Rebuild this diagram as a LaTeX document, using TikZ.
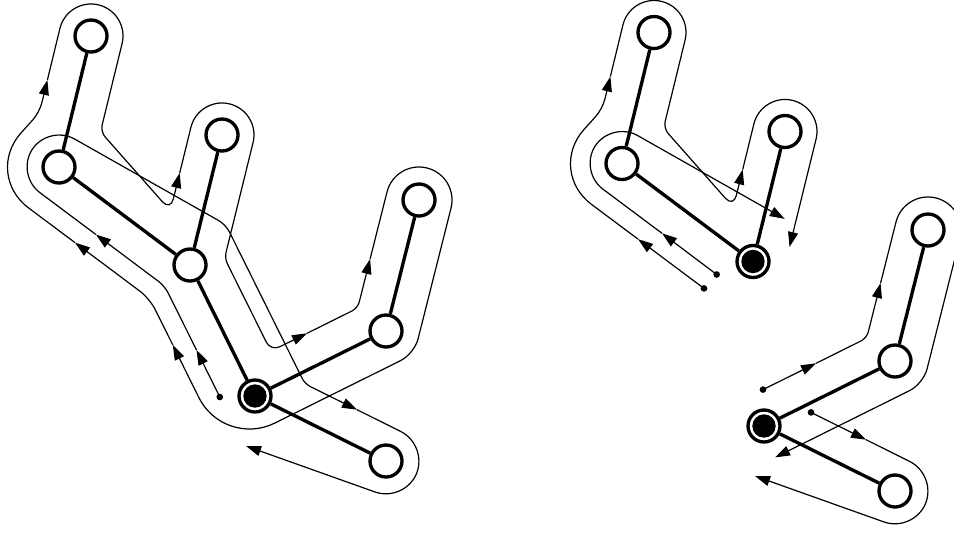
\documentclass[tikz,border=0pt]{standalone}
\usepackage{tikz}
\usetikzlibrary{arrows.meta}
\tikzset{
  vtx/.style      = {circle, draw=black, line width=1mm, fill=white,
                     minimum size=9.6mm, inner sep=0pt},
  rootvtx/.style  = {vtx, path picture={\fill[black]
                     (path picture bounding box.center) circle (3.5mm);}},
  treelink/.style = {line width=1mm},
  tour/.style     = {line width=0.36mm},
  arr/.style      = {tour, -{Triangle[length=4.5mm, width=3mm]}},
  startdot/.style = {circle, fill=black, inner sep=0pt, minimum size=2mm},
}

\begin{document}
\begin{tikzpicture}[x=0.3mm, y=-0.3mm]
\useasboundingbox (0,0) rectangle (954,532);

%% Whole tree
\node[vtx] (a) at (91,36) {};
\node[vtx] (b) at (59,167) {};
\node[vtx] (c) at (190,265) {};
\node[vtx] (d) at (222,135) {};
\node[rootvtx] (r) at (255,396) {};
\node[vtx] (e) at (419,200) {};
\node[vtx] (f) at (386,331) {};
\node[vtx] (g) at (386,461) {};
\node[startdot] (s0) at (219.8,397) {};

\draw[treelink] (a) -- (b);
\draw[treelink] (b) -- (c);
\draw[treelink] (c) -- (d);
\draw[treelink] (c) -- (r);
\draw[treelink] (r) -- (f);
\draw[treelink] (f) -- (e);
\draw[treelink] (r) -- (g);

%% Tour round the whole tree
\draw[arr] (47.4,80) [rounded corners=9.6mm] -- (67.5,-2.7) -- (129.7,12.5)
  [rounded corners=2.1mm] -- (100.5,131.7) [rounded corners=3.6mm]
  -- (170.4,210.8) -- (179.7,173);
\draw[arr] (179.7,173) [rounded corners=9.6mm] -- (198.5,96.3) -- (260.7,111.5)
  [rounded corners=1.8mm] -- (224.6,258.2) [rounded corners=3mm]
  -- (270.8,351.2) -- (307,333.3);
\draw[arr] (307,333.3) [rounded corners=1.8mm] -- (357.7,308.1) -- (370.1,259);
\draw[arr] (370.1,259) [rounded corners=9.9mm] -- (395.1,159.9) -- (459.1,176.1)
  [rounded corners=4.56mm] -- (414.3,353.8) [rounded corners=17mm]
  -- (224,448.3) -- (172.8,345);
\draw[arr] (172.8,345) [rounded corners=3.66mm] -- (149.7,298.5) -- (75,242.6);
\draw[arr] (75,242.6) [rounded corners=16.74mm] -- (-16.3,174.4)
  [rounded corners=3mm] -- (39.5,112.4) -- (47.4,80);

%% Inner tour
\draw[arr] (s0.center) -- (196.5,350);
\draw[arr] (196.5,350) [rounded corners=2.28mm] -- (164.7,286) -- (95.9,234.5);
\draw[arr] (95.9,234.5) [rounded corners=9mm] -- (15.8,174.6) -- (48.6,124.3)
  [rounded corners=2.4mm] -- (225.8,224.6) [rounded corners=1.8mm]
  -- (304.9,383.9) -- (357,409.7);
\draw[arr] (357,409.7) [rounded corners=9.33mm] -- (428.5,445.3) -- (404.3,502.4)
  -- (246,446);

%% Upper piece
\begin{scope}[shift={(563,-3.5)}]
\node[vtx] (a2) at (91,36) {};
\node[vtx] (b2) at (59,167) {};
\node[rootvtx] (c2) at (190,265) {};
\node[vtx] (d2) at (222,135) {};
\node[startdot] (s1) at (141,291.9) {};
\node[startdot] (s2) at (153.7,278) {};

\draw[treelink] (a2) -- (b2);
\draw[treelink] (b2) -- (c2);
\draw[treelink] (c2) -- (d2);

\draw[arr] (s1.center) -- (75,242.6);
\draw[arr] (75,242.6) [rounded corners=16.74mm] -- (-16.3,174.4)
  [rounded corners=3mm] -- (39.5,112.4) -- (47.4,80);
\draw[arr] (47.4,80) [rounded corners=9.6mm] -- (67.5,-2.7) -- (129.7,12.5)
  [rounded corners=2.1mm] -- (100.5,131.7) [rounded corners=3.6mm]
  -- (170.4,210.8) -- (179.7,173);
\draw[arr] (179.7,173) [rounded corners=9.6mm] -- (198.5,96.3) -- (260.7,111.5)
  -- (226.5,250.5);

\draw[arr] (s2.center) -- (99,236.8);
\draw[arr] (99,236.8) [rounded corners=9mm] -- (15.8,174.6) -- (48.6,124.3)
  -- (221.7,222.4);
\end{scope}

%% Lower piece
\begin{scope}[shift={(509,30)}]
\node[rootvtx] (r3) at (255,396) {};
\node[vtx] (e3) at (419,200) {};
\node[vtx] (f3) at (386,331) {};
\node[vtx] (g3) at (386,461) {};
\node[startdot] (s3) at (254,359.6) {};
\node[startdot] (s4) at (302,382.4) {};

\draw[treelink] (r3) -- (f3);
\draw[treelink] (f3) -- (e3);
\draw[treelink] (r3) -- (g3);

\draw[arr] (s3.center) -- (307,333.3);
\draw[arr] (307,333.3) [rounded corners=1.8mm] -- (357.7,308.1) -- (371.6,253);
\draw[arr] (371.6,253) [rounded corners=9.9mm] -- (395.1,159.9) -- (459.1,176.1)
  [rounded corners=4.56mm] -- (414.3,353.8) -- (266.1,427.4);

\draw[arr] (s4.center) -- (357,409.7);
\draw[arr] (357,409.7) [rounded corners=9.33mm] -- (428.5,445.3) -- (404.3,502.4)
  -- (246,446);
\end{scope}

\end{tikzpicture}
\end{document}
